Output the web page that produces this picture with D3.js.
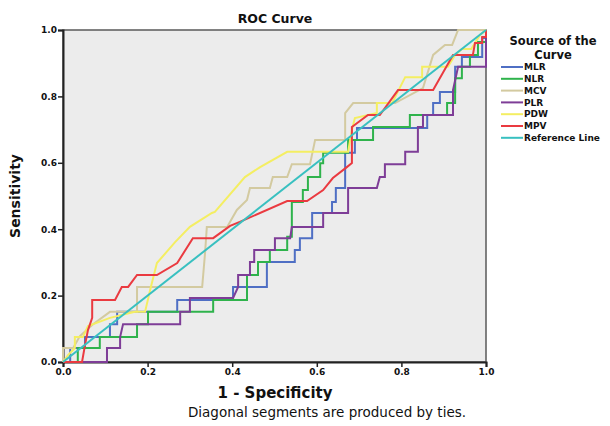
<!DOCTYPE html>
<html>
<head>
<meta charset="utf-8">
<script src="https://cdn.jsdelivr.net/npm/d3@7"></script>
<style>
  body { margin: 0; background: #fff; }
  text { font-family: "DejaVu Sans", sans-serif; fill: #111; }
  .tick-label { font-size: 9px; font-weight: bold; }
</style>
</head>
<body>
<div id="chart"></div>
<script>
// ROC points as [1 - specificity, sensitivity]
const mlr = [[0,0],[0.017,0],[0.017,0.042],[0.052,0.042],[0.052,0.075],[0.111,0.075],[0.111,0.114],[0.128,0.114],[0.128,0.151],[0.270,0.151],[0.270,0.187],[0.402,0.187],[0.402,0.226],[0.482,0.226],[0.482,0.301],[0.548,0.301],[0.548,0.337],[0.560,0.337],[0.560,0.373],[0.589,0.373],[0.589,0.449],[0.636,0.449],[0.636,0.482],[0.645,0.482],[0.645,0.524],[0.667,0.524],[0.667,0.630],[0.690,0.630],[0.690,0.669],[0.695,0.669],[0.695,0.705],[0.861,0.705],[0.861,0.744],[0.875,0.744],[0.875,0.780],[0.891,0.780],[0.891,0.813],[0.927,0.813],[0.927,0.889],[0.943,0.889],[0.943,0.919],[0.991,0.919],[0.991,0.976],[1,0.976],[1,1]];
const nlr = [[0,0],[0.035,0],[0.035,0.042],[0.087,0.042],[0.087,0.075],[0.175,0.075],[0.175,0.114],[0.201,0.114],[0.201,0.151],[0.355,0.151],[0.355,0.187],[0.435,0.187],[0.435,0.262],[0.461,0.262],[0.461,0.301],[0.489,0.301],[0.489,0.337],[0.530,0.337],[0.530,0.377],[0.541,0.377],[0.541,0.482],[0.567,0.482],[0.567,0.518],[0.579,0.518],[0.579,0.557],[0.608,0.557],[0.608,0.599],[0.615,0.599],[0.615,0.630],[0.674,0.630],[0.674,0.669],[0.733,0.669],[0.733,0.708],[0.820,0.708],[0.820,0.744],[0.908,0.744],[0.908,0.780],[0.927,0.780],[0.927,0.855],[0.943,0.855],[0.943,0.889],[0.962,0.889],[0.962,0.925],[0.981,0.925],[0.981,0.964],[1,0.964],[1,1]];
const mcv = [[0,0],[0,0.042],[0.024,0.042],[0.040,0.078],[0.071,0.114],[0.111,0.151],[0.175,0.151],[0.175,0.226],[0.329,0.226],[0.336,0.331],[0.340,0.407],[0.388,0.407],[0.411,0.458],[0.435,0.488],[0.442,0.524],[0.489,0.524],[0.496,0.557],[0.530,0.557],[0.541,0.596],[0.584,0.596],[0.596,0.669],[0.667,0.669],[0.667,0.750],[0.686,0.780],[0.785,0.780],[0.851,0.825],[0.875,0.925],[0.903,0.955],[0.920,0.955],[0.934,1],[1,1]];
const plr = [[0,0],[0.104,0],[0.104,0.042],[0.135,0.042],[0.135,0.075],[0.142,0.114],[0.277,0.114],[0.277,0.151],[0.300,0.151],[0.300,0.193],[0.402,0.193],[0.414,0.226],[0.414,0.262],[0.442,0.262],[0.442,0.301],[0.452,0.301],[0.452,0.337],[0.501,0.337],[0.501,0.373],[0.537,0.373],[0.541,0.407],[0.615,0.407],[0.615,0.449],[0.674,0.449],[0.674,0.524],[0.742,0.524],[0.749,0.557],[0.761,0.557],[0.761,0.596],[0.809,0.596],[0.809,0.633],[0.839,0.633],[0.839,0.708],[0.851,0.708],[0.851,0.744],[0.922,0.744],[0.922,0.819],[0.934,0.889],[1,0.889],[1,1]];
const pdw = [[0,0],[0.012,0.021],[0.028,0.042],[0.028,0.075],[0.047,0.075],[0.059,0.108],[0.111,0.133],[0.170,0.151],[0.194,0.151],[0.206,0.217],[0.222,0.298],[0.265,0.361],[0.300,0.407],[0.352,0.449],[0.359,0.452],[0.430,0.557],[0.466,0.587],[0.530,0.633],[0.674,0.633],[0.683,0.699],[0.690,0.735],[0.742,0.750],[0.742,0.780],[0.778,0.780],[0.809,0.858],[0.849,0.858],[0.849,0.889],[0.910,0.889],[0.927,0.925],[0.943,0.943],[0.965,0.943],[0.986,0.985],[1,1]];
const mpv = [[0,0],[0.045,0],[0.052,0.051],[0.059,0.096],[0.069,0.133],[0.069,0.187],[0.123,0.187],[0.139,0.226],[0.154,0.226],[0.175,0.262],[0.222,0.262],[0.270,0.298],[0.307,0.373],[0.355,0.373],[0.395,0.410],[0.418,0.422],[0.530,0.485],[0.577,0.485],[0.615,0.518],[0.638,0.554],[0.671,0.587],[0.683,0.599],[0.683,0.708],[0.721,0.744],[0.749,0.744],[0.792,0.819],[0.875,0.819],[0.922,0.925],[0.969,0.925],[0.974,0.961],[0.991,0.961],[0.991,0.979],[1,0.979],[1,1]];
const refLine = [[0,0],[1,1]];

const seriesNames = ["MLR", "NLR", "MCV", "PLR", "PDW", "MPV", "Reference Line"];
const seriesData = [mlr, nlr, mcv, plr, pdw, mpv, refLine];
const seriesColors = ["#4f6fc4", "#2fb34c", "#d3caa0", "#7e3d97", "#f4ee62", "#ea3a40", "#38c0c0"];
const tickValues = [0, 0.2, 0.4, 0.6, 0.8, 1.0];

const width = 610, height = 426;
const plotLeft = 63, plotRight = 486, plotTop = 30, plotBottom = 362;

const svg = d3.select("#chart").append("svg")
    .attr("width", width)
    .attr("height", height);

const x = d3.scaleLinear().domain([0, 1]).range([plotLeft, plotRight]);
const y = d3.scaleLinear().domain([0, 1]).range([plotBottom, plotTop]);

// plot background and frame
svg.append("rect")
    .attr("x", plotLeft).attr("y", plotTop)
    .attr("width", plotRight - plotLeft).attr("height", plotBottom - plotTop)
    .attr("fill", "#ececec")
    .attr("stroke", "#5a5a5a")
    .attr("stroke-width", 1.5);

// axes
const xAxis = svg.append("g")
    .attr("transform", `translate(0,${plotBottom})`)
    .call(d3.axisBottom(x).tickValues(tickValues).tickFormat(d3.format(".1f")).tickSize(5).tickPadding(2));
const yAxis = svg.append("g")
    .attr("transform", `translate(${plotLeft},0)`)
    .call(d3.axisLeft(y).tickValues(tickValues).tickFormat(d3.format(".1f")).tickSize(5).tickPadding(1));
[xAxis, yAxis].forEach(g => {
    g.select(".domain").attr("stroke", "#222").attr("stroke-width", 2);
    g.selectAll(".tick line").attr("stroke", "#222").attr("stroke-width", 1.5);
    g.selectAll(".tick text").attr("class", "tick-label").style("font-family", "DejaVu Sans").attr("fill", "#222");
});

// curves
const line = d3.line().x(d => x(d[0])).y(d => y(d[1]));
seriesData.forEach((pts, i) => {
    svg.append("path")
        .datum(pts)
        .attr("d", line)
        .attr("fill", "none")
        .attr("stroke", seriesColors[i])
        .attr("stroke-width", 2);
});

// titles
svg.append("text")
    .attr("x", 275).attr("y", 23)
    .attr("text-anchor", "middle")
    .style("font-size", "12.5px").style("font-weight", "bold")
    .text("ROC Curve");

svg.append("text")
    .attr("x", 275).attr("y", 398)
    .attr("text-anchor", "middle")
    .style("font-size", "15px").style("font-weight", "bold")
    .text("1 - Specificity");

svg.append("text")
    .attr("transform", `translate(20,${(plotTop + plotBottom) / 2}) rotate(-90)`)
    .attr("text-anchor", "middle")
    .style("font-size", "14px").style("font-weight", "bold")
    .text("Sensitivity");

svg.append("text")
    .attr("x", 327).attr("y", 417)
    .attr("text-anchor", "middle")
    .style("font-size", "13.5px")
    .text("Diagonal segments are produced by ties.");

// legend
const legend = svg.append("g");
legend.append("text")
    .attr("x", 553).attr("y", 45)
    .attr("text-anchor", "middle")
    .style("font-size", "11.5px").style("font-weight", "bold")
    .text("Source of the");
legend.append("text")
    .attr("x", 553).attr("y", 58.5)
    .attr("text-anchor", "middle")
    .style("font-size", "11.5px").style("font-weight", "bold")
    .text("Curve");

seriesNames.forEach((name, i) => {
    const ly = 67 + i * 11.8;
    legend.append("line")
        .attr("x1", 501).attr("x2", 523)
        .attr("y1", ly).attr("y2", ly)
        .attr("stroke", seriesColors[i])
        .attr("stroke-width", 2);
    legend.append("text")
        .attr("x", 524).attr("y", ly)
        .attr("dy", "0.35em")
        .style("font-size", "9px").style("font-weight", "bold")
        .text(name);
});
</script>
</body>
</html>
